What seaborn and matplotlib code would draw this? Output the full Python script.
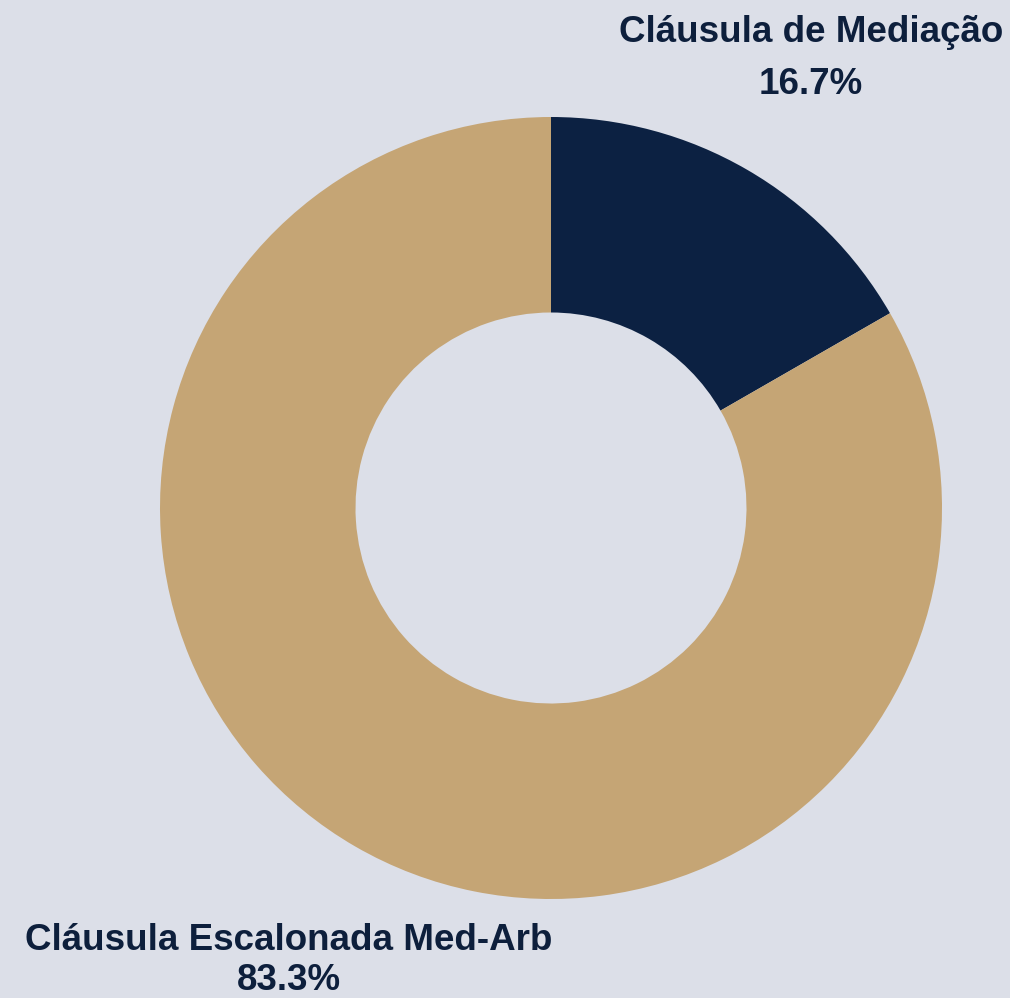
import matplotlib
matplotlib.use("Agg")
import matplotlib.pyplot as plt
import seaborn as sns

categories = ["Cláusula de Mediação", "Cláusula Escalonada Med-Arb"]
values = [16.7, 83.3]
pct_labels = ["16.7%", "83.3%"]
colors = ["#0c2142", "#c5a575"]

bg = "#dcdfe8"
text_color = "#0d1f3c"

sns.set_theme(style="white")
plt.rcParams["font.family"] = ["Liberation Sans", "DejaVu Sans"]

fig = plt.figure(figsize=(10.10, 9.98), dpi=100)
fig.patch.set_facecolor(bg)

W, H = 1010, 998
cx, cy, r = 551, 508, 391
ax = fig.add_axes([(cx - r) / W, (H - cy - r) / H, 2 * r / W, 2 * r / H])
ax.set_facecolor(bg)
ax.pie(values, colors=colors, startangle=90, counterclock=False, radius=1.0,
       wedgeprops=dict(width=0.5, edgecolor="none", linewidth=0))
ax.set_xlim(-1, 1)
ax.set_ylim(-1, 1)
ax.set_aspect("equal")
ax.axis("off")

fs = 26.5
fig.text(811 / W, 1 - 33 / H, categories[0], ha="center", va="center",
         fontsize=fs, fontweight="bold", color=text_color)
fig.text(811 / W, 1 - 85 / H, pct_labels[0], ha="center", va="center",
         fontsize=fs, fontweight="bold", color=text_color)
fig.text(289 / W, 1 - 941 / H, categories[1], ha="center", va="center",
         fontsize=fs, fontweight="bold", color=text_color)
fig.text(289 / W, 1 - 980 / H, pct_labels[1], ha="center", va="center",
         fontsize=fs, fontweight="bold", color=text_color)

fig.savefig("out.png", dpi=100, facecolor=bg)
